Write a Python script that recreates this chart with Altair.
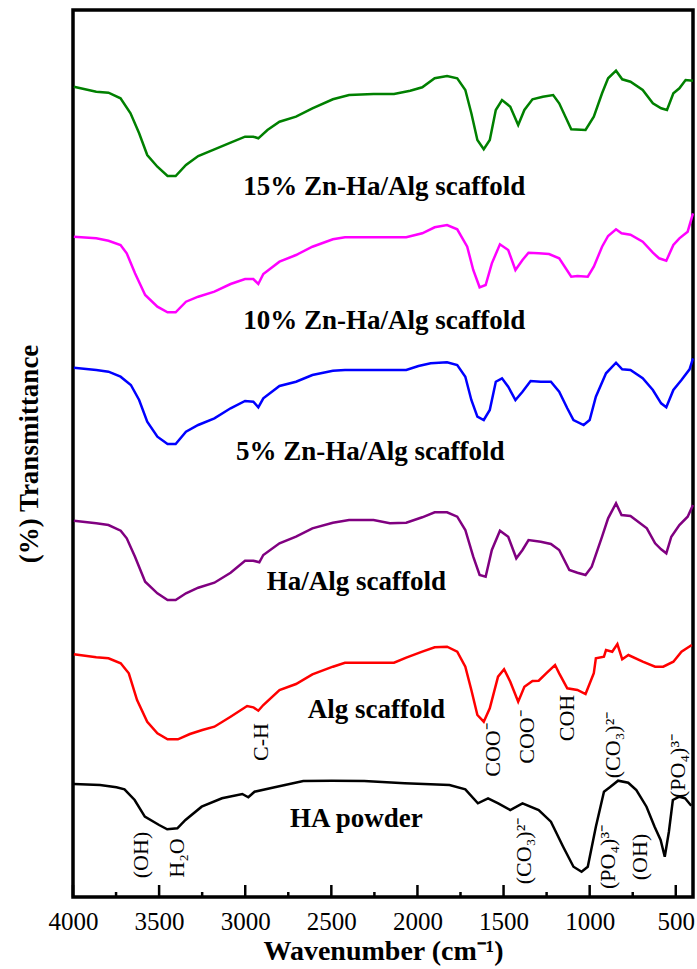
import altair as alt
import pandas as pd

# ---------------- data ----------------
series_names = ["15% Zn-Ha/Alg scaffold", "10% Zn-Ha/Alg scaffold", "5% Zn-Ha/Alg scaffold",
                "Ha/Alg scaffold", "Alg scaffold", "HA powder"]
series_colors = ["#008000", "#ff00ff", "#0000ff", "#800080", "#ff0000", "#000000"]

green_wn = [3995, 3865, 3794, 3724, 3666, 3616, 3569, 3510, 3451, 3404, 3344, 3273, 3179, 3085, 3001,
            2953, 2924, 2871, 2801, 2705, 2610, 2491, 2397, 2255, 2136, 2042, 1972, 1900, 1828, 1769,
            1722, 1687, 1652, 1615, 1580, 1545, 1509, 1461, 1415, 1379, 1332, 1272, 1212, 1177, 1107,
            1024, 976, 928, 893, 847, 811, 763, 692, 633, 585, 551, 514, 479, 443, 400]
green_t = [810.3, 805.3, 804.3, 798.7, 783.7, 763.7, 742, 730.3, 721, 721, 732, 741, 747.7, 754.3, 760.3,
           760.3, 758.7, 767, 775.3, 780.3, 788.7, 797.7, 802, 803, 803, 806.3, 809.7, 818.7, 821, 818.7,
           807, 783.7, 757, 747.7, 757, 787, 797, 790.3, 772, 787, 797.7, 800.3, 802, 793.7, 767.7,
           767, 780.3, 803.7, 818.7, 826.3, 817.7, 815.3, 807, 793.7, 788.7, 787, 803.7, 808.7, 817, 816.3]

magenta_wn = [3995, 3865, 3794, 3724, 3688, 3640, 3581, 3510, 3451, 3404, 3344, 3273, 3179, 3085, 3001,
              2953, 2924, 2895, 2801, 2705, 2610, 2491, 2421, 2065, 1972, 1900, 1828, 1769, 1711, 1676,
              1639, 1604, 1568, 1521, 1473, 1431, 1390, 1355, 1296, 1236, 1177, 1107, 1071, 1011, 976,
              928, 893, 847, 815, 763, 692, 633, 597, 555, 514, 479, 431, 400]
magenta_t = [660.3, 658.7, 656.3, 652, 643.7, 623.7, 602, 590.3, 584.7, 584.7, 595.3, 600.3, 605.3, 613, 618,
             618, 613, 623, 635.3, 642, 650.3, 657.7, 659.7, 659.7, 663.7, 669.7, 672, 667.7, 650.3, 627,
             609.7, 612, 633.7, 652.7, 647, 627, 637, 644.3, 643.7, 643, 638.7, 620.3, 621, 620.3, 630.3,
             650.3, 661, 667.7, 663.7, 662.3, 655.3, 644.3, 638.7, 636.3, 652, 658.7, 665.3, 683.7]

blue_wn = [3995, 3865, 3794, 3724, 3664, 3616, 3569, 3510, 3451, 3404, 3344, 3273, 3179, 3085, 3001,
           2953, 2924, 2895, 2801, 2705, 2610, 2491, 2421, 2065, 1994, 1923, 1828, 1769, 1722, 1687,
           1652, 1615, 1580, 1545, 1509, 1473, 1431, 1390, 1343, 1284, 1225, 1177, 1130, 1094, 1035,
           1000, 964, 905, 847, 811, 763, 692, 633, 585, 555, 514, 467, 420, 400]
blue_t = [529.3, 527, 525.3, 520.3, 512, 497, 475.3, 460.3, 453, 453, 465.3, 472, 478.7, 488.7, 496,
          495.3, 489.7, 498.7, 511, 515.3, 522, 526.3, 527, 527, 531, 533.7, 534.7, 532, 520.3, 497,
          480.3, 477, 487, 515.3, 518.7, 510.3, 497, 505.3, 516, 515.3, 515.3, 505.3, 488.7, 477, 472,
          477, 500.3, 523.7, 534.3, 527.7, 527, 518.7, 507, 493.7, 489.7, 507, 517, 527.7, 538.7]

purple_wn = [3995, 3865, 3794, 3723, 3688, 3640, 3581, 3510, 3451, 3404, 3344, 3273, 3179, 3085, 3001,
             2953, 2918, 2895, 2801, 2705, 2610, 2491, 2397, 2255, 2160, 2065, 1972, 1900, 1828, 1769,
             1722, 1676, 1639, 1604, 1568, 1521, 1473, 1426, 1390, 1355, 1284, 1225, 1177, 1118, 1071,
             1024, 988, 928, 893, 847, 815, 763, 668, 620, 585, 555, 526, 479, 431, 400]
purple_t = [376.3, 373.7, 372, 366.3, 358.7, 340.3, 315.3, 303.7, 297, 297, 303.7, 309.3, 314.3, 324.3, 336.3,
            336.3, 334.7, 342, 353.7, 360.3, 368.7, 374.3, 377, 377, 373.7, 374.3, 379.7, 384.7, 384.7, 380.3,
            367, 340.3, 322, 320.3, 347, 366.3, 360.3, 338.7, 347, 357, 355.3, 353, 347, 327, 324.3,
            322, 330.3, 360.3, 378.7, 393.7, 382, 381, 368.7, 353.7, 347.7, 343.7, 360.3, 372, 380.3, 392]

red_wn = [3995, 3865, 3794, 3723, 3676, 3628, 3569, 3510, 3451, 3391, 3321, 3249, 3179, 3085, 2989,
          2953, 2924, 2895, 2801, 2705, 2610, 2491, 2421, 2255, 2136, 2065, 1972, 1900, 1828, 1769,
          1722, 1687, 1652, 1615, 1580, 1532, 1497, 1461, 1415, 1379, 1332, 1296, 1248, 1201, 1177,
          1130, 1071, 1024, 976, 964, 917, 905, 869, 839, 811, 775, 692, 620, 573, 514, 467, 407]
red_t = [242.7, 239.7, 238.7, 233.7, 223.7, 197, 175.3, 163.7, 157.7, 157.7, 163, 167, 170.3, 180.3, 191,
         189.7, 186.3, 192, 207, 213, 222.7, 230.3, 234.3, 234.3, 234.3, 239.3, 245.3, 249.7, 250.3, 245.3,
         230.3, 207, 182, 175.3, 188.7, 220.3, 227.7, 215.3, 195.3, 210.3, 216, 216.3, 224.3, 232, 223.7,
         208.7, 207, 203, 223.7, 238.7, 240.3, 247, 245.3, 253, 237.7, 242, 235.3, 230.3, 230.3, 235.3,
         245.3, 252]

black_wn = [3995, 3843, 3748, 3701, 3642, 3583, 3500, 3453, 3394, 3347, 3253, 3135, 3017, 2982, 2946,
            2829, 2663, 2498, 2309, 2074, 1814, 1722, 1649, 1590, 1531, 1461, 1390, 1296, 1225, 1154,
            1094, 1047, 1011, 964, 917, 883, 835, 776, 729, 670, 623, 588, 564, 540, 517, 479, 446, 410]
black_t = [113, 112, 109.7, 107.7, 97, 80.3, 72, 67.7, 68.7, 77, 90.3, 98.7, 103, 99.7, 105.3,
           109.7, 116, 116.3, 116, 113.7, 112, 107.7, 93.7, 98.7, 93.7, 87, 93.7, 87, 75.3, 50.3,
           30.3, 25.3, 30.3, 70.3, 105.3, 109.7, 116.3, 114.3, 107, 90.3, 70.3, 57, 40.3, 65.3, 97,
           100.3, 98.7, 91.3]

# curve labels (wavenumber, transmittance position)
label_wn = [2193, 2193, 2274, 2355, 2239, 2355]
label_t = [710, 576, 445, 315, 187, 78]

# band assignments (rotated)
ann_text = ["C-H", "(OH)", "H\u2082O", "COO\u207b", "COO\u207b", "COH", "(CO\u2083)\u00b2\u207b",
            "(PO\u2084)\u00b3\u207b", "(CO\u2083)\u00b2\u207b", "(PO\u2084)\u00b3\u207b", "(OH)"]
ann_wn = [2906, 3603, 3394, 1560, 1363, 1131, 864, 487, 1380, 893, 707]
ann_t = [155, 42, 39, 147, 160, 179, 152, 131, 46, 40, 40]

major_ticks = [4000, 3500, 3000, 2500, 2000, 1500, 1000, 500]
minor_ticks = [3750, 3250, 2750, 2250, 1750, 1250, 750]

# ---------------- tables ----------------
all_wn = [green_wn, magenta_wn, blue_wn, purple_wn, red_wn, black_wn]
all_t = [green_t, magenta_t, blue_t, purple_t, red_t, black_t]
rows = []
for name, wns, ts in zip(series_names, all_wn, all_t):
    for w, t in zip(wns, ts):
        rows.append({"wn": w, "T": t, "series": name})
spectra = pd.DataFrame(rows)

labels_df = pd.DataFrame({"wn": label_wn, "T": label_t, "text": series_names})
ann_df = pd.DataFrame({"wn": ann_wn, "T": ann_t, "text": ann_text})
ticks_df = pd.DataFrame({
    "wn": major_ticks + minor_ticks,
    "T": [0] * (len(major_ticks) + len(minor_ticks)),
    "T2": [12] * len(major_ticks) + [5] * len(minor_ticks),
})

xscale = alt.Scale(domain=[400, 4000], reverse=True, nice=False, zero=False)
yscale = alt.Scale(domain=[0, 887], nice=False, zero=False)

serif = "Liberation Serif"

x_axis = alt.Axis(values=major_ticks, format="d", labelFont=serif, labelFontSize=25,
                  labelColor="black", ticks=False, domain=False, grid=False, labelPadding=12,
                  labelFlush=False, labelOverlap=False,
                  title="Wavenumber (cm\u207b\u00b9)", titleFont=serif, titleFontSize=28,
                  titleFontWeight="bold", titleColor="black", titlePadding=3)
y_axis = alt.Axis(labels=False, ticks=False, domain=False, grid=False, minExtent=0, maxExtent=0,
                  title="(%) Transmittance", titleFont=serif, titleFontSize=27,
                  titleFontWeight="bold", titleColor="black", titlePadding=30)

lines = alt.Chart(spectra).mark_line(strokeWidth=2.5, interpolate="linear").encode(
    x=alt.X("wn:Q", scale=xscale, axis=x_axis),
    y=alt.Y("T:Q", scale=yscale, axis=y_axis),
    color=alt.Color("series:N", scale=alt.Scale(domain=series_names, range=series_colors), legend=None),
    detail="series:N",
)

ticks = alt.Chart(ticks_df).mark_rule(color="black", strokeWidth=2.5).encode(
    x=alt.X("wn:Q"),
    y=alt.Y("T:Q"),
    y2="T2:Q",
)

curve_labels = alt.Chart(labels_df).mark_text(font=serif, fontSize=27, fontWeight="bold",
                                               color="black", align="center", baseline="middle").encode(
    x=alt.X("wn:Q"),
    y=alt.Y("T:Q"),
    text="text:N",
)

annotations = alt.Chart(ann_df).mark_text(font=serif, fontSize=22, color="black", angle=270,
                                           align="center", baseline="middle").encode(
    x=alt.X("wn:Q"),
    y=alt.Y("T:Q"),
    text="text:N",
)

chart = alt.layer(lines, ticks, curve_labels, annotations).properties(
    width=620, height=887,
    autosize=alt.AutoSizeParams(type="none"),
    padding={"left": 73, "top": 10, "right": 4, "bottom": 72},
    background="white",
).configure_view(stroke="black", strokeWidth=3.5)

chart.save("out.html", embed_options={"renderer": "svg", "actions": False})
